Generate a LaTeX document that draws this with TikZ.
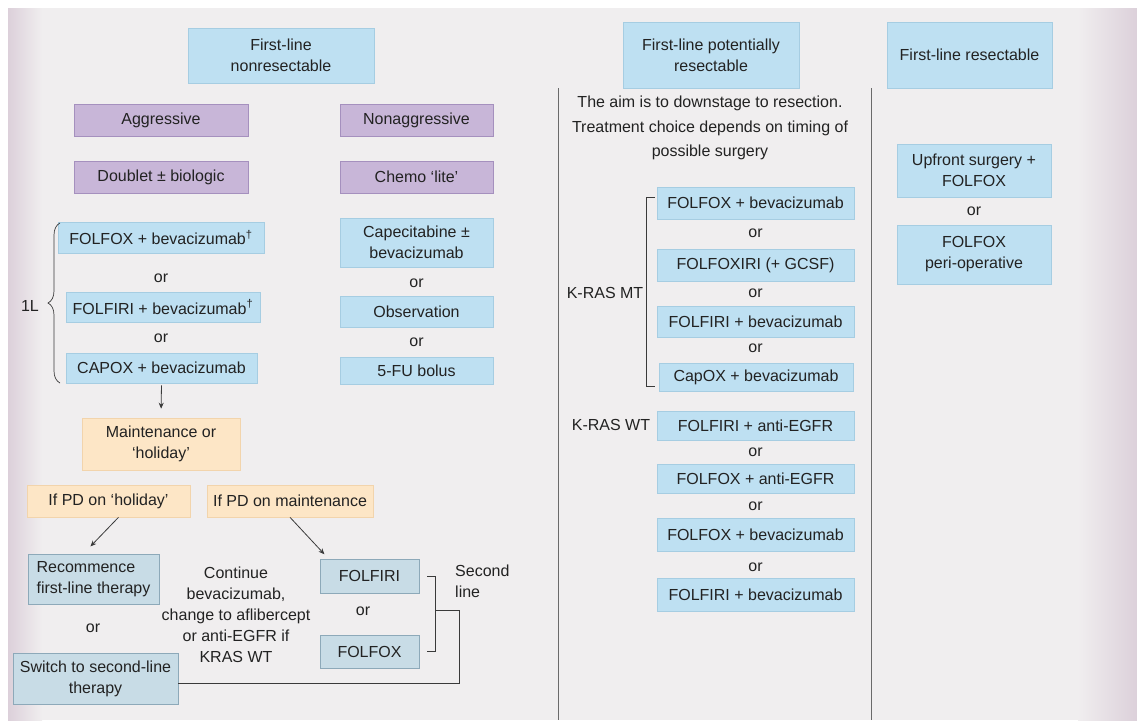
\documentclass[tikz,border=0pt]{standalone}
\usepackage{fontspec}
\setmainfont{Liberation Sans}
\usetikzlibrary{arrows.meta,decorations.pathreplacing}
\definecolor{bg}{HTML}{F0EEEF}
\definecolor{edgecol}{HTML}{DCD0DA}
\definecolor{lblue}{HTML}{BEE0F2}
\definecolor{lblueb}{HTML}{A6CDE2}
\definecolor{purp}{HTML}{C8B6D8}
\definecolor{purpb}{HTML}{A590BE}
\definecolor{orng}{HTML}{FDE6C6}
\definecolor{orngb}{HTML}{F2D4AC}
\definecolor{gblue}{HTML}{C8DCE6}
\definecolor{gblueb}{HTML}{8DA9B9}
\definecolor{ink}{HTML}{222222}
\definecolor{linec}{HTML}{3A3A3A}
\definecolor{sepc}{HTML}{6A6A6A}
\newcommand{\bx}[7]{\node[#2, minimum width={(#5-#3)*1pt}, minimum height={(#6-#4)*1pt}] (#1) at ({(#3+#5)/2},{(#4+#6)/2}) {#7};}
\tikzset{
  txt/.style={inner sep=0pt, align=center, font=\fontsize{16}{21}\selectfont, text=ink},
  bluebox/.style={txt, fill=lblue, draw=lblueb, line width=0.6pt},
  purplebox/.style={txt, fill=purp, draw=purpb, line width=0.6pt},
  orangebox/.style={txt, fill=orng, draw=orngb, line width=0.6pt},
  greybox/.style={txt, fill=gblue, draw=gblueb, line width=0.7pt},
  conn/.style={draw=linec, line width=0.8pt},
  arr/.style={conn, -{Stealth[length=6pt,width=5pt]}},
  sepline/.style={draw=sepc, line width=0.9pt}
}
\begin{document}
\begin{tikzpicture}[x=1pt,y=-1pt]
\useasboundingbox (0,0) rectangle (1137,720);
% background panel
\fill[white] (0,0) rectangle (1137,720);
\fill[bg] (8,8) rectangle (1137,720);
\shade[left color=edgecol, right color=bg] (8,8) rectangle (42,720);
\shade[left color=bg, right color=edgecol] (1078,8) rectangle (1137,720);

% separators
\draw[sepline] (558,88) -- (558,720);
\draw[sepline] (871,88) -- (871,720);

% ---------- left column ----------
\bx{h1}{bluebox}{188}{28}{374}{83}{First-line\\nonresectable}
\bx{agg}{purplebox}{74}{104}{248}{136}{Aggressive}
\bx{nagg}{purplebox}{340}{104}{493}{136}{Nonaggressive}
\bx{dbl}{purplebox}{74}{161}{248}{193}{Doublet ± biologic}
\bx{lite}{purplebox}{340}{161}{493}{193}{Chemo ‘lite’}

\bx{a1}{bluebox}{58}{222}{264}{253}{FOLFOX + bevacizumab\textsuperscript{†}}
\node[txt] (ora1) at (161,278) {or};
\bx{a2}{bluebox}{66}{292}{260}{322}{FOLFIRI + bevacizumab\textsuperscript{†}}
\node[txt] (ora2) at (161,338) {or};
\bx{a3}{bluebox}{66}{353}{257}{383}{CAPOX + bevacizumab}

\bx{n1}{bluebox}{340}{218}{493}{267}{Capecitabine ±\\bevacizumab}
\node[txt] (orn1) at (416.5,283) {or};
\bx{n2}{bluebox}{340}{296}{493}{327}{Observation}
\node[txt] (orn2) at (416.5,342) {or};
\bx{n3}{bluebox}{340}{357}{493}{384}{5-FU bolus}

\node[txt] (onel) at (30,306) {1L};
\draw[draw=linec, line width=0.7pt, decorate, decoration={brace, amplitude=12pt, aspect=0.5}] (60,383) -- (60,223);

\bx{mh}{orangebox}{82}{418}{240}{470}{Maintenance or\\‘holiday’}
\draw[arr, shorten >=9pt, shorten <=2pt] (a3.south) -- (mh.north);

\bx{pdh}{orangebox}{27}{485}{190}{517}{If PD on ‘holiday’}
\bx{pdm}{orangebox}{207}{485}{373}{517}{If PD on maintenance}

\bx{rec}{greybox, align=left}{28}{554}{159}{604}{Recommence\\first-line therapy}
\node[txt] (orr) at (93,628) {or};
\bx{sw}{greybox}{13}{653}{178}{704}{Switch to second-line\\therapy}
\node[txt] (cont) at (236,615) {Continue\\bevacizumab,\\change to aflibercept\\or anti-EGFR if\\KRAS WT};
\bx{ffi}{greybox}{320}{559}{419}{593}{FOLFIRI}
\node[txt] (orf) at (363,611) {or};
\bx{ffo}{greybox}{320}{635}{419}{668}{FOLFOX}
\node[txt, align=left, anchor=west] (sl) at (455,581) {Second\\line};

\draw[arr, shorten >=10pt] ([xshift=10pt]pdh.south) -- ([xshift=-10pt]rec.north);
\draw[arr, shorten >=6pt] (pdm.south) -- ([xshift=-41pt]ffi.north);

% second-line bracket
\coordinate (bk) at (435,610);
\draw[conn] ([xshift=8pt]ffi.east) -- ++(8,0) |- ([xshift=8pt]ffo.east);
\draw[conn] (bk) -- (459,610) |- ([yshift=-4.5pt]sw.east);

% ---------- middle column ----------
\bx{h2}{bluebox}{623}{22}{799}{88}{First-line potentially\\resectable}
\node[txt, font=\fontsize{16}{24.5}\selectfont] (aim) at (710,128) {The aim is to downstage to resection.\\Treatment choice depends on timing of\\possible surgery};

\bx{m1}{bluebox}{657}{187}{854}{219}{FOLFOX + bevacizumab}
\node[txt] (orm1) at (755.5,233) {or};
\bx{m2}{bluebox}{657}{249}{854}{281}{FOLFOXIRI (+ GCSF)}
\node[txt] (orm2) at (755.5,293) {or};
\bx{m3}{bluebox}{657}{306}{854}{337}{FOLFIRI + bevacizumab}
\node[txt] (orm3) at (755.5,348) {or};
\bx{m4}{bluebox}{659}{363}{853}{391}{CapOX + bevacizumab}

\node[txt] (kmt) at (605,293) {K-RAS MT};
\draw[conn] (655,197) -- (646,197) -- (646,386) -- (655,386);

\node[txt] (kwt) at (611,425) {K-RAS WT};
\bx{w1}{bluebox}{657}{411}{854}{440}{FOLFIRI + anti-EGFR}
\node[txt] (orw1) at (755.5,452) {or};
\bx{w2}{bluebox}{657}{464}{854}{493}{FOLFOX + anti-EGFR}
\node[txt] (orw2) at (755.5,506) {or};
\bx{w3}{bluebox}{657}{518}{854}{551}{FOLFOX + bevacizumab}
\node[txt] (orw3) at (755.5,567) {or};
\bx{w4}{bluebox}{657}{578}{854}{611}{FOLFIRI + bevacizumab}

% ---------- right column ----------
\bx{h3}{bluebox}{887}{22}{1052}{88}{First-line resectable}
\bx{r1}{bluebox}{897}{144}{1051}{197}{Upfront surgery +\\FOLFOX}
\node[txt] (orr1) at (974,211) {or};
\bx{r2}{bluebox}{897}{225}{1051}{284}{FOLFOX\\peri-operative}
\end{tikzpicture}
\end{document}
